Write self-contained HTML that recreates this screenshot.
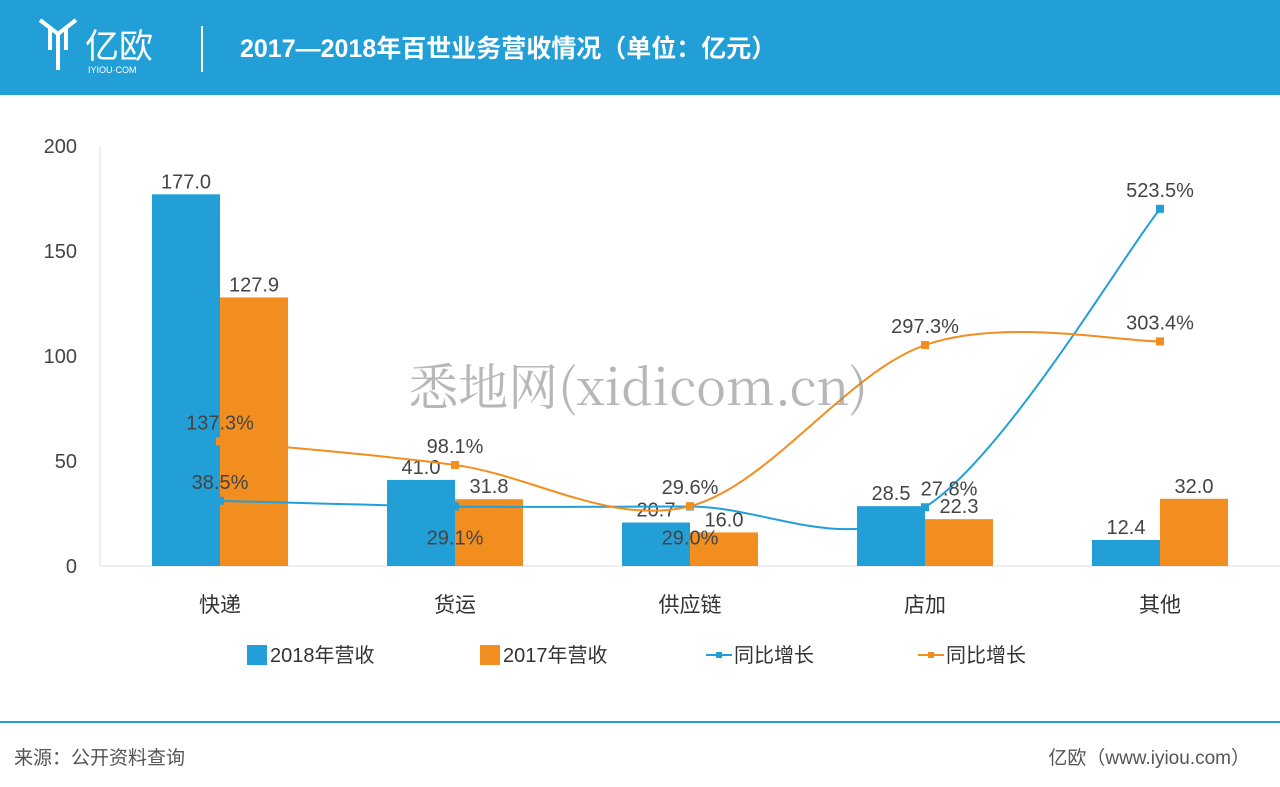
<!DOCTYPE html>
<html><head><meta charset="utf-8"><style>
body{margin:0;width:1280px;height:787px;background:#fff;overflow:hidden;font-family:"Liberation Sans","Noto Sans CJK SC",sans-serif;}
#hdr{position:absolute;left:0;top:0;width:1280px;height:95px;background:#239fd7;}
svg{position:absolute;left:0;top:0}
</style></head><body>
<div id="hdr"></div>
<svg id="c" width="1280" height="787">
<g>
<path d="M40 20 L58 34 L76 20 M50 28 L50 50 M58 34 L58 70 M66 28 L66 50" stroke="#fff" stroke-width="4" fill="none"/>
<text x="85" y="58" fill="#fff" font-size="34" font-family="Liberation Sans,Noto Sans CJK SC,sans-serif">亿欧</text>
<text x="88" y="73" fill="#fff" font-size="9">IYIOU·COM</text>
</g>
<line x1="202" y1="26" x2="202" y2="72" stroke="#fff" stroke-width="2"/>
<text x="240" y="57" fill="#fff" font-size="25" font-weight="bold">2017—2018年百世业务营收情况（单位：亿元）</text>
<line x1="100" y1="146" x2="100" y2="566" stroke="#ddd"/>
<line x1="100" y1="566" x2="1280" y2="566" stroke="#ddd"/>
<g id="ax"></g><g id="bars"></g><g id="lines"></g>
<text x="638" y="405" text-anchor="middle" font-size="50" fill="#888" opacity="0.6" font-family="Noto Serif CJK SC,Liberation Serif,serif">悉地网(xidicom.cn)</text>
<g font-size="20" fill="#333">
<rect x="247" y="645" width="20" height="20" fill="#239fd7"/><text x="270" y="662">2018年营收</text>
<rect x="480" y="645" width="20" height="20" fill="#f28e1f"/><text x="503" y="662">2017年营收</text>
<line x1="706" y1="655" x2="732" y2="655" stroke="#239fd7" stroke-width="2"/><rect x="716" y="652" width="6" height="6" fill="#239fd7"/><text x="734" y="662">同比增长</text>
<line x1="918" y1="655" x2="944" y2="655" stroke="#f28e1f" stroke-width="2"/><rect x="928" y="652" width="6" height="6" fill="#f28e1f"/><text x="946" y="662">同比增长</text>
</g>
<line x1="0" y1="722" x2="1280" y2="722" stroke="#239fd7" stroke-width="2"/>
<text x="14" y="764" font-size="19" fill="#555">来源：公开资料查询</text>
<text x="1250" y="764" font-size="19" fill="#555" text-anchor="end">亿欧（www.iyiou.com）</text>
</svg>
<script>
const categories=["快递","货运","供应链","店加","其他"];
const rev2018=[177.0,41.0,20.7,28.5,12.4];
const rev2017=[127.9,31.8,16.0,22.3,32.0];
const growthBlue=[38.5,29.1,29.0,27.8,523.5];
const growthOrange=[137.3,98.1,29.6,297.3,303.4];
const yTicks=[0,50,100,150,200];
const NS="http://www.w3.org/2000/svg";
const y=v=>566-v*2.1, y2=v=>524-v*0.602, cx=i=>220+i*235;
function el(t,a,p,txt){const e=document.createElementNS(NS,t);for(const k in a)e.setAttribute(k,a[k]);if(txt!=null)e.textContent=txt;document.getElementById(p).appendChild(e);return e;}
yTicks.forEach(v=>{const t=el('text',{x:77,y:y(v)+7,'text-anchor':'end','font-size':20,fill:'#444'},'ax',v);
});
categories.forEach((c,i)=>{const t=el('text',{x:cx(i),y:612,'text-anchor':'middle','font-size':21,fill:'#333'},'ax',c);

const b=el('rect',{x:cx(i)-68,y:y(rev2018[i]),width:68,height:566-y(rev2018[i]),fill:'#239fd7'},'bars');

const o=el('rect',{x:cx(i),y:y(rev2017[i]),width:68,height:566-y(rev2017[i]),fill:'#f28e1f'},'bars');

el('text',{x:cx(i)-34,y:y(rev2018[i])-6,'text-anchor':'middle','font-size':20,fill:'#444'},'bars',rev2018[i].toFixed(1));
el('text',{x:cx(i)+34,y:y(rev2017[i])-6,'text-anchor':'middle','font-size':20,fill:'#444'},'bars',rev2017[i].toFixed(1));});
function path(pts){let d=`M${pts[0][0]},${pts[0][1]}`;for(let i=0;i<pts.length-1;i++){const p0=pts[i-1]||pts[i],p1=pts[i],p2=pts[i+1],p3=pts[i+2]||p2;
d+=` C${p1[0]+(p2[0]-p0[0])/6},${p1[1]+(p2[1]-p0[1])/6} ${p2[0]-(p3[0]-p1[0])/6},${p2[1]-(p3[1]-p1[1])/6} ${p2[0]},${p2[1]}`;}return d;}
[[growthBlue,'#239fd7','growth-line-blue'],[growthOrange,'#f28e1f','growth-line-orange']].forEach(([arr,col,nm])=>{
const pts=arr.map((v,i)=>[cx(i),y2(v)]);
const p=el('path',{d:path(pts),stroke:col,'stroke-width':2,fill:'none'},'lines');

pts.forEach((q,i)=>{const m=el('rect',{x:q[0]-4,y:q[1]-4,width:8,height:8,fill:col},'lines');

const below=(nm==='growth-line-blue'&&(i==1||i==2));
const dx=(nm==='growth-line-blue'&&i==3)?24:0;
el('text',{x:q[0]+dx,y:below?q[1]+38:q[1]-12,'text-anchor':'middle','font-size':20,fill:'#444'},'lines',arr[i].toFixed(1)+'%');});});
</script>
</body></html>
